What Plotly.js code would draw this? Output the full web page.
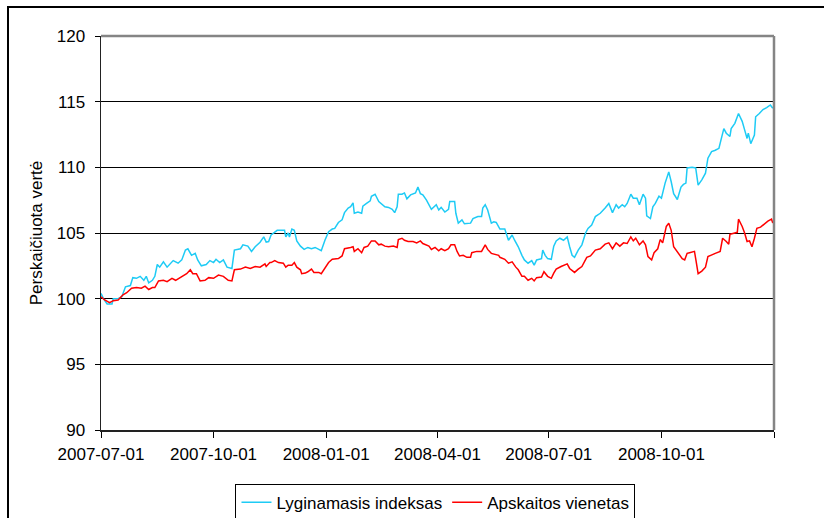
<!DOCTYPE html>
<html>
<head>
<meta charset="utf-8">
<script src="https://cdn.plot.ly/plotly-3.0.1.min.js"></script>
<style>
  html, body { margin: 0; padding: 0; background: #fff; overflow: hidden; }
  #wrap { position: relative; width: 824px; height: 518px; }
  #chart { position: absolute; left: 0; top: 0; width: 824px; height: 518px; }
  #frame { position: absolute; left: 7px; top: 6px; width: 830px; height: 530px;
           border-left: 2px solid #000; border-top: 2px solid #000; pointer-events: none; }
</style>
</head>
<body>
<div id="wrap"><div id="chart"></div><div id="frame"></div></div>
<script>
// Lyginamasis indeksas (benchmark index)
const indexDates = [
 '2007-07-01','2007-07-03','2007-07-06','2007-07-10','2007-07-11','2007-07-15','2007-07-18','2007-07-21','2007-07-25','2007-07-27','2007-07-30',
 '2007-08-02','2007-08-05','2007-08-07','2007-08-09','2007-08-12','2007-08-14','2007-08-16','2007-08-18','2007-08-21','2007-08-24','2007-08-26','2007-08-29',
 '2007-09-02','2007-09-05','2007-09-08','2007-09-10','2007-09-13','2007-09-16','2007-09-18','2007-09-21','2007-09-25','2007-09-28',
 '2007-10-01','2007-10-03','2007-10-06','2007-10-09','2007-10-12','2007-10-16','2007-10-18','2007-10-23','2007-10-25','2007-10-29',
 '2007-11-01','2007-11-04','2007-11-08','2007-11-11','2007-11-13','2007-11-15','2007-11-16','2007-11-17','2007-11-22','2007-11-26','2007-11-28','2007-11-29',
 '2007-12-01','2007-12-02','2007-12-04','2007-12-06','2007-12-08','2007-12-11','2007-12-14','2007-12-17','2007-12-20','2007-12-23','2007-12-26','2007-12-28','2007-12-31',
 '2008-01-03','2008-01-06','2008-01-08','2008-01-11','2008-01-14','2008-01-16','2008-01-19','2008-01-21','2008-01-23','2008-01-24','2008-01-27','2008-01-30','2008-01-31',
 '2008-02-03','2008-02-06','2008-02-07','2008-02-10','2008-02-13','2008-02-15','2008-02-18','2008-02-21','2008-02-24','2008-02-26','2008-02-28','2008-02-29',
 '2008-03-03','2008-03-05','2008-03-07','2008-03-10','2008-03-14','2008-03-16','2008-03-18','2008-03-20','2008-03-23','2008-03-27','2008-03-29','2008-03-31',
 '2008-04-02','2008-04-04','2008-04-07','2008-04-10','2008-04-11','2008-04-15','2008-04-16','2008-04-18','2008-04-21','2008-04-23','2008-04-28','2008-04-30',
 '2008-05-04','2008-05-07','2008-05-08','2008-05-10','2008-05-12','2008-05-15','2008-05-17','2008-05-19','2008-05-22','2008-05-26','2008-05-29',
 '2008-06-01','2008-06-03','2008-06-06','2008-06-09','2008-06-11','2008-06-14','2008-06-17','2008-06-19','2008-06-21','2008-06-25','2008-06-26','2008-06-28','2008-06-30',
 '2008-07-03','2008-07-05','2008-07-07','2008-07-10','2008-07-13','2008-07-16','2008-07-18','2008-07-20','2008-07-22','2008-07-25','2008-07-28','2008-07-31',
 '2008-08-02','2008-08-05','2008-08-08','2008-08-12','2008-08-16','2008-08-19','2008-08-22','2008-08-25','2008-08-27','2008-08-30',
 '2008-09-01','2008-09-03','2008-09-06','2008-09-08','2008-09-11','2008-09-13','2008-09-16','2008-09-18','2008-09-19','2008-09-22','2008-09-24','2008-09-26','2008-09-29',
 '2008-10-01','2008-10-04','2008-10-07','2008-10-09','2008-10-11','2008-10-14','2008-10-17','2008-10-19','2008-10-21','2008-10-22','2008-10-26','2008-10-29','2008-10-31',
 '2008-11-03','2008-11-06','2008-11-08','2008-11-11','2008-11-14','2008-11-17','2008-11-19','2008-11-21','2008-11-23','2008-11-26','2008-11-27','2008-11-30',
 '2008-12-03','2008-12-06','2008-12-08','2008-12-10','2008-12-11','2008-12-13','2008-12-16','2008-12-17','2008-12-20','2008-12-23','2008-12-26','2008-12-29','2008-12-31'
];
const indexValues = [
 100.4,100.0,99.6,99.6,100.0,100.0,100.15,100.9,101.0,101.6,101.55,
 101.7,101.4,101.7,101.2,101.4,101.7,102.6,102.4,102.8,102.4,102.6,102.9,
 102.7,102.95,103.7,103.8,103.3,103.45,102.95,102.5,102.6,102.9,
 102.75,103.0,102.75,102.95,102.4,102.3,103.7,103.8,104.1,104.0,
 103.6,103.95,104.3,104.7,104.3,104.35,104.6,104.85,105.2,105.2,105.2,104.7,
 105.0,104.7,105.3,105.2,104.4,104.0,103.75,103.9,103.8,103.9,103.75,103.65,104.45,
 105.1,105.3,105.35,105.8,106.0,106.55,106.9,107.0,107.3,106.5,106.6,106.5,107.05,
 107.25,107.45,107.8,107.95,107.4,107.25,107.0,106.95,106.8,106.55,107.0,107.95,
 107.95,108.05,107.6,107.9,108.05,108.5,108.0,107.9,107.5,106.8,107.0,107.15,
 106.75,106.95,106.6,106.8,107.4,107.4,106.5,105.75,106.0,105.7,105.75,106.1,
 106.25,106.25,106.9,107.15,106.75,105.75,105.85,105.8,105.3,105.3,104.45,
 104.85,104.45,103.95,103.3,102.95,102.7,102.9,102.55,102.95,103.05,103.7,103.3,103.05,
 103.0,104.0,104.4,104.6,104.45,104.7,103.95,103.3,103.15,103.7,104.1,105.0,
 105.35,105.6,106.25,106.5,106.9,107.25,106.55,107.15,106.9,107.15,
 107.0,107.25,107.95,107.65,107.65,107.15,107.95,107.65,106.3,106.1,107.0,107.25,107.8,
 107.65,108.8,109.65,108.9,108.0,107.55,108.5,108.7,108.8,109.95,110.0,109.95,108.65,
 109.05,109.55,110.7,111.2,111.3,111.45,112.2,112.95,112.6,112.35,112.95,113.35,
 114.1,113.5,112.85,112.2,112.6,111.8,112.45,113.85,114.1,114.4,114.55,114.75,114.5
];

// Apskaitos vienetas (unit value)
const unitDates = [
 '2007-07-01','2007-07-04','2007-07-08','2007-07-11','2007-07-15','2007-07-19','2007-07-22','2007-07-26','2007-07-30',
 '2007-08-03','2007-08-06','2007-08-09','2007-08-12','2007-08-14','2007-08-17','2007-08-21','2007-08-24','2007-08-28','2007-08-31',
 '2007-09-05','2007-09-09','2007-09-12','2007-09-14','2007-09-17','2007-09-20','2007-09-24','2007-09-27',
 '2007-10-01','2007-10-05','2007-10-09','2007-10-13','2007-10-16','2007-10-18','2007-10-23','2007-10-27','2007-10-31',
 '2007-11-04','2007-11-08','2007-11-11','2007-11-12','2007-11-13','2007-11-16','2007-11-17','2007-11-20','2007-11-23','2007-11-27','2007-11-29',
 '2007-12-01','2007-12-04','2007-12-06','2007-12-08','2007-12-11','2007-12-12','2007-12-15','2007-12-17','2007-12-20','2007-12-22','2007-12-26','2007-12-28','2007-12-31',
 '2008-01-03','2008-01-06','2008-01-08','2008-01-11','2008-01-14','2008-01-16','2008-01-21','2008-01-23','2008-01-24','2008-01-27','2008-01-30',
 '2008-02-01','2008-02-04','2008-02-07','2008-02-10','2008-02-13','2008-02-15','2008-02-18','2008-02-21','2008-02-25','2008-02-28','2008-02-29',
 '2008-03-03','2008-03-05','2008-03-08','2008-03-12','2008-03-15','2008-03-18','2008-03-20','2008-03-25','2008-03-27','2008-03-30',
 '2008-04-02','2008-04-04','2008-04-07','2008-04-10','2008-04-12','2008-04-15','2008-04-17','2008-04-19','2008-04-22','2008-04-25','2008-04-28','2008-04-29',
 '2008-05-03','2008-05-07','2008-05-10','2008-05-12','2008-05-15','2008-05-18','2008-05-21','2008-05-22','2008-05-26','2008-05-29',
 '2008-06-01','2008-06-04','2008-06-06','2008-06-09','2008-06-11','2008-06-14','2008-06-17','2008-06-19','2008-06-21','2008-06-25','2008-06-27','2008-06-30',
 '2008-07-03','2008-07-05','2008-07-07','2008-07-11','2008-07-16','2008-07-18','2008-07-22','2008-07-25','2008-07-28',
 '2008-08-01','2008-08-04','2008-08-08','2008-08-12','2008-08-16','2008-08-19','2008-08-22','2008-08-25','2008-08-28','2008-08-31',
 '2008-09-03','2008-09-06','2008-09-08','2008-09-10','2008-09-13','2008-09-16','2008-09-18','2008-09-20','2008-09-23','2008-09-25','2008-09-28','2008-09-30',
 '2008-10-02','2008-10-05','2008-10-07','2008-10-09','2008-10-11','2008-10-13','2008-10-16','2008-10-18','2008-10-20','2008-10-22','2008-10-24','2008-10-28','2008-10-29','2008-10-31',
 '2008-11-03','2008-11-06','2008-11-08','2008-11-11','2008-11-14','2008-11-18','2008-11-20','2008-11-23','2008-11-25','2008-11-26','2008-11-29',
 '2008-12-02','2008-12-03','2008-12-06','2008-12-08','2008-12-10','2008-12-12','2008-12-14','2008-12-16','2008-12-18','2008-12-21','2008-12-25','2008-12-27','2008-12-30','2008-12-31'
];
const unitValues = [
 100.15,99.9,99.7,99.85,99.9,100.3,100.45,100.8,100.85,
 100.8,100.95,100.7,100.85,100.85,101.35,101.4,101.3,101.55,101.4,
 101.7,101.9,102.2,101.9,101.9,101.35,101.4,101.6,
 101.55,101.8,101.7,101.4,101.35,102.2,102.25,102.4,102.3,
 102.45,102.4,102.55,102.65,102.45,102.75,102.75,102.9,102.75,102.7,102.4,
 102.55,102.55,102.75,102.4,102.2,101.9,101.95,102.05,102.25,102.0,102.0,101.9,102.3,
 102.75,103.0,103.0,103.05,103.25,103.8,103.9,103.95,103.6,103.8,103.5,
 103.9,104.0,104.4,104.4,104.1,104.15,104.0,103.95,104.0,103.9,104.5,
 104.6,104.45,104.35,104.35,104.25,104.4,104.2,104.0,103.75,103.9,
 103.65,103.8,103.65,103.8,104.1,104.1,103.6,103.25,103.3,103.15,103.15,103.5,
 103.6,103.6,104.1,103.75,103.45,103.4,103.3,103.15,103.0,102.7,
 102.8,102.4,102.2,101.7,101.7,101.4,101.55,101.35,101.6,101.65,102.05,101.7,
 101.55,101.95,102.25,102.45,102.65,102.3,102.0,102.25,102.45,
 103.15,103.25,103.7,103.8,104.15,104.25,103.8,104.25,104.0,104.25,
 104.2,104.7,104.4,104.6,104.1,104.4,104.1,103.2,102.95,103.5,103.8,104.5,
 104.25,105.5,105.75,105.2,103.95,103.7,103.3,103.05,102.95,103.45,103.5,103.6,103.05,101.9,
 102.1,102.4,103.2,103.3,103.45,103.6,104.6,104.35,104.15,104.9,105.0,
 105.05,106.05,105.5,105.0,104.35,104.4,103.95,104.6,105.35,105.45,105.75,105.9,106.05,105.75
];

const seriesNames = ['Lyginamasis indeksas', 'Apskaitos vienetas'];
const seriesColors = ['#1ECBF5', '#FF0000'];
const xTickVals = ['2007-07-01','2007-10-01','2008-01-01','2008-04-01','2008-07-01','2008-10-01','2009-01-01'];
const xTickText = ['2007-07-01','2007-10-01','2008-01-01','2008-04-01','2008-07-01','2008-10-01',''];
const yTickVals = [90, 95, 100, 105, 110, 115, 120];
const yTitle = 'Perskaičiuota vertė';

const font = 'Arial, "Liberation Sans", sans-serif';
const fsize = 17;

const traces = [
  { x: indexDates, y: indexValues, name: seriesNames[0], type: 'scatter', mode: 'lines',
    line: { color: seriesColors[0], width: 1.5 } },
  { x: unitDates, y: unitValues, name: seriesNames[1], type: 'scatter', mode: 'lines',
    line: { color: seriesColors[1], width: 1.5 } }
];

const layout = {
  width: 824, height: 518,
  margin: { l: 101, r: 50, t: 36, b: 88, autoexpand: false },
  paper_bgcolor: 'rgba(0,0,0,0)', plot_bgcolor: '#fff',
  font: { family: font, size: fsize, color: '#000' },
  showlegend: true,
  legend: {
    orientation: 'h', x: 0.497, xanchor: 'center', y: -0.136, yanchor: 'top',
    bordercolor: '#000', borderwidth: 1, bgcolor: '#fff',
    font: { family: font, size: fsize, color: '#000' },
    itemwidth: 30, tracegroupgap: 0
  },
  xaxis: {
    type: 'date', range: ['2007-07-01', '2009-01-01'],
    tickmode: 'array', tickvals: xTickVals, ticktext: xTickText,
    ticks: 'outside', ticklen: 6, tickwidth: 1, tickcolor: '#000',
    showgrid: false, zeroline: false,
    showline: true, linecolor: '#222', linewidth: 1.5,
    ticklabelstandoff: 2,
    tickfont: { family: font, size: fsize, color: '#000' }
  },
  yaxis: {
    range: [90, 120], tickmode: 'array', tickvals: yTickVals,
    ticks: 'outside', ticklen: 5, tickwidth: 1, tickcolor: '#000',
    showgrid: true, gridcolor: '#000', gridwidth: 1,
    zeroline: false, showline: true, linecolor: '#222', linewidth: 1.5,
    ticklabelstandoff: 6,
    tickfont: { family: font, size: fsize, color: '#000' },
    title: { text: yTitle, font: { family: font, size: fsize, color: '#000' }, standoff: 10 },
    automargin: false
  },
  shapes: [
    { type: 'line', xref: 'paper', yref: 'paper', x0: 0, x1: 1, y0: 1, y1: 1,
      line: { color: '#858585', width: 2.5 }, layer: 'above' },
    { type: 'line', xref: 'paper', yref: 'paper', x0: 1, x1: 1, y0: 0, y1: 1,
      line: { color: '#858585', width: 2.5 }, layer: 'above' }
  ]
};

Plotly.newPlot('chart', traces, layout, { staticPlot: true, displayModeBar: false });
</script>
</body>
</html>
